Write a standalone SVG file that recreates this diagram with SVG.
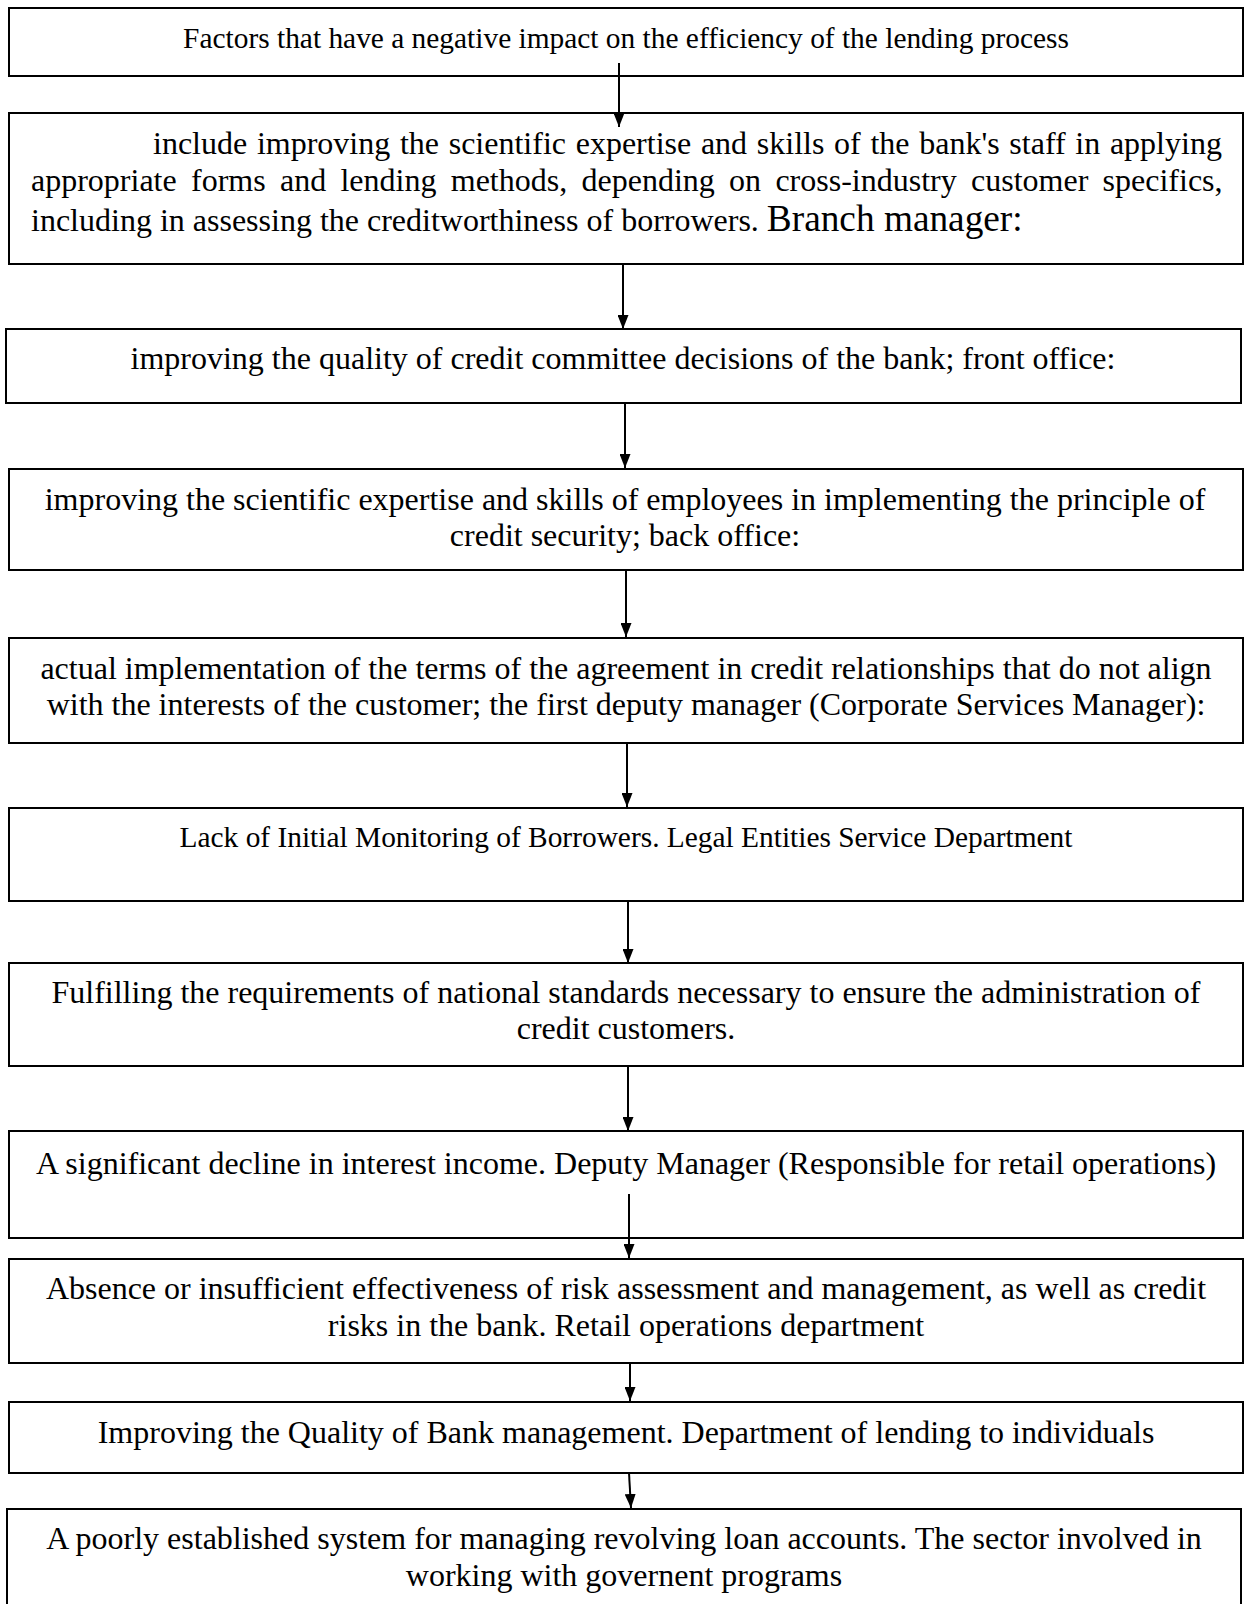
<svg xmlns="http://www.w3.org/2000/svg" width="1246" height="1604" viewBox="0 0 1246 1604">
<style>
.box{fill:none;stroke:#000;stroke-width:2}
.t{font-family:"Liberation Serif","Times New Roman",serif;font-size:32px;fill:#000;text-anchor:middle}
.s{font-size:29.4px}
.j{text-anchor:start}
.c{stroke:#000;stroke-width:2;fill:none;marker-end:url(#ah)}
</style>
<defs>
<marker id="ah" viewBox="0 0 14 11" markerWidth="14" markerHeight="11" refX="14" refY="5.5" orient="auto" markerUnits="userSpaceOnUse">
<path d="M0,0 L14,5.5 L0,11 z" fill="#000"/>
</marker>
</defs>
<rect width="1246" height="1604" fill="#fff"/>
<g id="n1"><rect class="box" x="9" y="8" width="1234" height="68"/>
<text class="t s" x="626" y="48">Factors that have a negative impact on the efficiency of the lending process</text></g>
<g id="n2"><rect class="box" x="9" y="113" width="1234" height="151"/>
<text class="t j" x="153" y="154" word-spacing="1.7">include improving the scientific expertise and skills of the bank's staff in applying</text>
<text class="t j" x="31" y="191" word-spacing="6.3">appropriate forms and lending methods, depending on cross-industry customer specifics,</text>
<text class="t j" x="31" y="231">including in assessing the creditworthiness of borrowers. <tspan font-size="37.3">Branch manager:</tspan></text></g>
<g id="n3"><rect class="box" x="6" y="329" width="1235" height="74"/>
<text class="t" x="623" y="369">improving the quality of credit committee decisions of the bank; front office:</text></g>
<g id="n4"><rect class="box" x="9" y="469" width="1234" height="101"/>
<text class="t" x="625" y="510">improving the scientific expertise and skills of employees in implementing the principle of</text>
<text class="t" x="625" y="546">credit security; back office:</text></g>
<g id="n5"><rect class="box" x="9" y="638" width="1234" height="105"/>
<text class="t" x="626" y="679">actual implementation of the terms of the agreement in credit relationships that do not align</text>
<text class="t" x="626" y="715">with the interests of the customer; the first deputy manager (Corporate Services Manager):</text></g>
<g id="n6"><rect class="box" x="9" y="808" width="1234" height="93"/>
<text class="t s" x="626" y="847">Lack of Initial Monitoring of Borrowers. Legal Entities Service Department</text></g>
<g id="n7"><rect class="box" x="9" y="963" width="1234" height="103"/>
<text class="t" x="626" y="1003">Fulfilling the requirements of national standards necessary to ensure the administration of</text>
<text class="t" x="626" y="1039">credit customers.</text></g>
<g id="n8"><rect class="box" x="9" y="1131" width="1234" height="107"/>
<text class="t" x="626" y="1174">A significant decline in interest income. Deputy Manager (Responsible for retail operations)</text></g>
<g id="n9"><rect class="box" x="9" y="1259" width="1234" height="104"/>
<text class="t" x="626" y="1299">Absence or insufficient effectiveness of risk assessment and management, as well as credit</text>
<text class="t" x="626" y="1336">risks in the bank. Retail operations department</text></g>
<g id="n10"><rect class="box" x="9" y="1402" width="1234" height="71"/>
<text class="t" x="626" y="1443">Improving the Quality of Bank management. Department of lending to individuals</text></g>
<g id="n11"><rect class="box" x="7" y="1509" width="1234" height="110"/>
<text class="t" x="624" y="1549">A poorly established system for managing revolving loan accounts. The sector involved in</text>
<text class="t" x="624" y="1586">working with governent programs</text></g>
<g id="connectors">
<path class="c" d="M619,63 L619,127"/>
<path class="c" d="M623,264 L623,329"/>
<path class="c" d="M625,403 L625,468"/>
<path class="c" d="M626,570 L626,637"/>
<path class="c" d="M627,743 L627,807"/>
<path class="c" d="M628,901 L628,963"/>
<path class="c" d="M628,1066 L628,1131"/>
<path class="c" d="M629,1194 L629,1258"/>
<path class="c" d="M630,1363 L630,1401"/>
<path class="c" d="M629,1473 L631,1508"/>
</g>
</svg>
